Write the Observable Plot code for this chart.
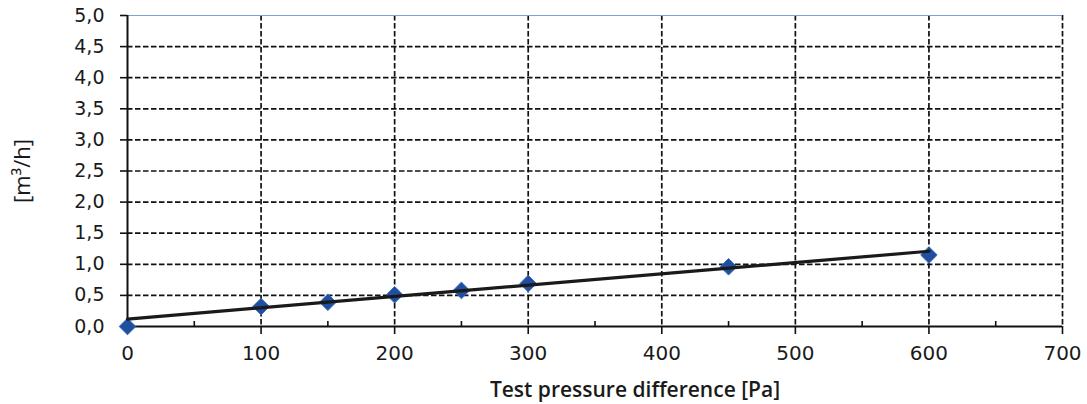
<!DOCTYPE html>
<html>
<head>
<meta charset="utf-8">
<script src="https://cdn.jsdelivr.net/npm/d3@7"></script>
<script src="https://cdn.jsdelivr.net/npm/@observablehq/plot@0.6"></script>
<style>
  html, body { margin: 0; padding: 0; background: #fff; }
  #chart svg { display: block; }
</style>
</head>
<body>
<div id="chart"></div>
<script>
// Measured points
const pressure = [0, 100, 150, 200, 250, 300, 450, 600];
const flow = [0.0, 0.32, 0.39, 0.51, 0.58, 0.69, 0.96, 1.15];
// Trend line endpoints (as drawn)
const trendX = [0, 600];
const trendY = [0.12, 1.21];
// Axis ticks
const xTicks = [0, 100, 200, 300, 400, 500, 600, 700];
const xMinorTicks = [50, 150, 250, 350, 450, 550, 650];
const yTicks = [0, 0.5, 1.0, 1.5, 2.0, 2.5, 3.0, 3.5, 4.0, 4.5, 5.0];
const yGrid = [0.5, 1.0, 1.5, 2.0, 2.5, 3.0, 3.5, 4.0, 4.5];
const xGrid = [100, 200, 300, 400, 500, 600, 700];
const xLabel = "Test pressure difference [Pa]";
const yLabel = "[m³/h]";

const points = pressure.map((p, i) => ({x: p, y: flow[i]}));
const trend = trendX.map((p, i) => ({x: p, y: trendY[i]}));
const fmt = d => d.toFixed(1).replace(".", ",");
const font = "'DejaVu Sans', Verdana, sans-serif";

const chart = Plot.plot({
  width: 1087,
  height: 404,
  marginLeft: 127,
  marginRight: 25,
  marginTop: 15,
  marginBottom: 78,
  style: {fontFamily: font, fontSize: "18px", color: "#111", background: "#fff"},
  x: {domain: [0, 700]},
  y: {domain: [0, 5]},
  marks: [
    Plot.ruleY(yGrid, {stroke: "#111", strokeWidth: 1.7, strokeDasharray: "5.5,2.5"}),
    Plot.ruleX(xGrid, {stroke: "#111", strokeWidth: 1.7, strokeDasharray: "5.5,2.5"}),
    Plot.ruleY([5], {stroke: "#7f9fd6", strokeWidth: 1.2}),
    Plot.axisY({ticks: yTicks, tickFormat: fmt, tickSize: 7, tickPadding: 16, tickStroke: "#111", strokeWidth: 1.6, label: null, fontSize: 19, fill: "#1a1a1a"}),
    Plot.axisX({ticks: xTicks, tickFormat: d => String(d), tickSize: 8, tickPadding: 11, strokeWidth: 1.6, label: null, fontSize: 20, fill: "#1a1a1a"}),
    Plot.axisX({ticks: xMinorTicks, tickSize: -5, text: null, strokeWidth: 1.6, label: null}),
    Plot.ruleX([0], {stroke: "#111", strokeWidth: 2}),
    Plot.ruleY([0], {stroke: "#111", strokeWidth: 2}),
    Plot.dot(points, {x: "x", y: "y", symbol: "diamond2", r: 7.5, fill: "#1f4f9e", stroke: "#3b6fc0", strokeWidth: 1}),
    Plot.line(trend, {x: "x", y: "y", stroke: "#1a1a1a", strokeWidth: 3.2}),
    Plot.text([xLabel], {frameAnchor: "bottom", dx: 40, dy: 70, fontSize: 21, fontWeight: 600, fontFamily: "'Open Sans', sans-serif", fill: "#1a1a1a"}),
    Plot.text([yLabel], {frameAnchor: "left", textAnchor: "middle", dx: -105, rotate: -90, fontSize: 22, fontWeight: 500, fontFamily: "'Open Sans', sans-serif", fill: "#1a1a1a"})
  ]
});
document.getElementById("chart").appendChild(chart);
</script>
</body>
</html>
